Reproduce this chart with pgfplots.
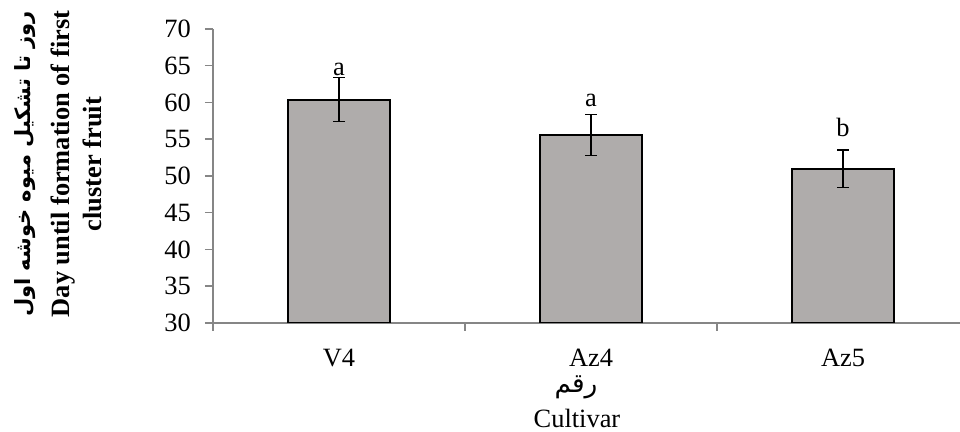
\documentclass[border=0pt]{standalone}
\usepackage{pgfplots}
\pgfplotsset{compat=1.18}
\usepackage{fontspec}
\setmainfont{Liberation Serif}
\newfontfamily\arabicfont[Script=Arabic]{DejaVu Sans}
\TeXXeTstate=1
\definecolor{barfill}{RGB}{175,172,171}
\definecolor{axgray}{RGB}{134,134,134}
\begin{document}
\fontsize{13.2}{15.8}\selectfont
\begin{tikzpicture}
\useasboundingbox (-106.5pt,-54.5pt) rectangle (373.5pt,161.5pt);
\begin{axis}[
  at={(0pt,0pt)}, anchor=south west,
  scale only axis, width=373.5pt, height=147pt,
  xmin=-0.5, xmax=2.464, ymin=30, ymax=70,
  ytick={30,35,...,70},
  xtick={-0.5,0.5,1.5},
  xticklabels={},
  extra x ticks={0,1,2},
  extra x tick labels={V4,Az4,Az5},
  extra x tick style={major tick length=0pt, tick style={draw=none}},
  axis lines*=left,
  axis line style={axgray, line width=0.75pt},
  tick style={axgray, line width=0.75pt},
  tick align=outside, major tick length=4pt,
  /pgf/number format/assume math mode=true,
  every tick label/.append style={font=\fontsize{13.2}{15.8}\selectfont, text=black},
  xticklabel style={yshift=-8.5pt},
  yticklabel style={xshift=-2.5pt},
  clip mode=individual,
]
\addplot[ybar, bar width=51pt, fill=barfill, draw=black, line width=1pt,
  error bars/.cd, y dir=both, y explicit,
  error bar style={black, line width=0.7pt},
  error mark options={black, mark size=3pt, line width=0.7pt, rotate=90}]
  coordinates {(0,60.4) +- (0,3.0) (1,55.6) +- (0,2.8) (2,51.0) +- (0,2.55)};
\node at (axis cs:0,64.5) {a};
\node at (axis cs:1,60.3) {a};
\node at (axis cs:2,56.6) {b};
\end{axis}
\node[rotate=90, font=\fontsize{10.5}{12}\selectfont\bfseries\arabicfont] at (-94pt,79.5pt) {\beginR روز تا تشکیل میوه خوشه اول\endR};
\node[rotate=90, font=\bfseries] at (-75pt,79.5pt) {Day until formation of first};
\node[rotate=90, font=\bfseries] at (-60.5pt,79.5pt) {cluster fruit};
\node[font=\arabicfont] at (181.5pt,-32pt) {\beginR رقم\endR};
\node at (182pt,-47.5pt) {Cultivar};
\end{tikzpicture}
\end{document}
